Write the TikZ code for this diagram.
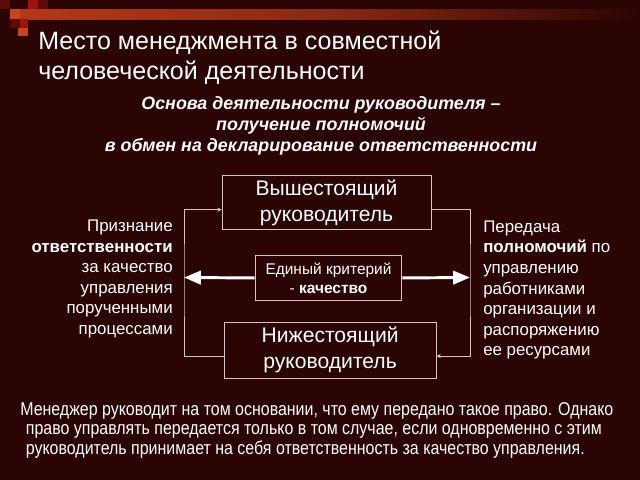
\documentclass[tikz,border=0pt]{standalone}
\usepackage{fontspec}
\setmainfont{Liberation Sans}
\newfontfamily\narrowfont[FakeStretch=0.86]{Liberation Sans}
\usepackage{xcolor}
\usetikzlibrary{positioning,arrows.meta}
\definecolor{bgmaroon}{HTML}{2B0404}
\definecolor{linepink}{HTML}{D6C4C4}
\definecolor{bandorange}{HTML}{B43A18}
\definecolor{sqred}{HTML}{A01212}
\definecolor{sqdark}{HTML}{5E0808}
\definecolor{sqorange}{HTML}{C4461E}

\begin{document}
\begin{tikzpicture}[x=0.025cm,y=-0.025cm,node distance=0.6cm,
        box/.style={draw=linepink, line width=0.6pt, text=white, align=center, inner sep=0pt},
        side/.style={text=white, inner sep=0pt, font=\fontsize{12}{14.6}\selectfont},
        conn/.style={draw=linepink, line width=0.6pt, -{Stealth[length=3pt,width=3pt]}},
        critarrow/.style={draw=white, line width=2.1pt, -{Triangle[length=12pt,width=9.5pt]}}]
        % background and top decoration
        \fill[bgmaroon] (0,0) rectangle (640,480);
        \shade[left color=bandorange, right color=bgmaroon, middle color=bandorange!70!bgmaroon] (10,9) rectangle (640,19);
        \fill[sqdark] (0,0) rectangle (10,9);
        \fill[sqred] (28,0) rectangle (38,9);
        \fill[sqdark] (38,0) rectangle (48,9);
        \fill[sqorange] (10,9) rectangle (20,19);
        \fill[sqred] (20,19) rectangle (28,28);
        \fill[sqorange] (18,28) rectangle (28,36);
        \fill[sqdark] (10,19) rectangle (20,28);

        % headings
        \node[anchor=north west, inner sep=0pt, text=white, align=left, font=\fontsize{17.8}{21.3}\selectfont] (title) at (38,31)
            {Место менеджмента в совместной\\человеческой деятельности};
        \node[anchor=north, inner sep=0pt, text=white, align=center, font=\fontsize{12.7}{15}\selectfont\bfseries\itshape] (basis) at (321,96)
            {Основа деятельности руководителя –\\получение полномочий\\в обмен на декларирование ответственности};

        % boxes
        \node[box, minimum width=5.22cm, minimum height=1.37cm, font=\fontsize{15}{18.4}\selectfont] (upper) at (326.5,202.5)
            {Вышестоящий\\руководитель};
        \node[box, minimum width=3.67cm, minimum height=1.12cm, font=\fontsize{11}{13.5}\selectfont, below=0.62cm of upper, xshift=0.05cm] (crit)
            {Единый критерий\\- \textbf{качество}};
        \node[box, minimum width=5.3cm, minimum height=1.4cm, font=\fontsize{15}{18.4}\selectfont, below=0.52cm of crit, xshift=0.04cm] (lower)
            {Нижестоящий\\руководитель};

        % side texts
        \node[side, anchor=east, align=right] (accept) at (173,279)
            {Признание\\\textbf{ответственности}\\за качество\\управления\\порученными\\процессами};
        \node[side, anchor=west, align=left] (grant) at (483,290)
            {Передача\\\textbf{полномочий} по\\управлению\\работниками\\организации и\\распоряжению\\ее ресурсами};

        % connectors
        \coordinate (lft) at (184,277.5);
        \coordinate (rgt) at (470,277.5);
        \draw[conn] ([yshift=-0.15cm]lower.west) -| (lft) |- ([yshift=-0.18cm]upper.west);
        \draw[conn] ([yshift=-0.18cm]upper.east) -| (rgt) |- ([yshift=-0.15cm]lower.east);
        \draw[critarrow] (crit.west) -- (lft);
        \draw[critarrow] (crit.east) -- (rgt);

        % footnote
        \node[anchor=north west, inner sep=0pt, text=white, align=left, font=\narrowfont\fontsize{13.2}{14}\selectfont] (note) at (20,402)
            {Менеджер руководит на том основании, что ему передано такое право. Однако\\
             \hspace*{4pt}право управлять передается только в том случае, если одновременно с этим\\
             \hspace*{4pt}руководитель принимает на себя ответственность за качество управления.};
    \end{tikzpicture}
\end{document}
